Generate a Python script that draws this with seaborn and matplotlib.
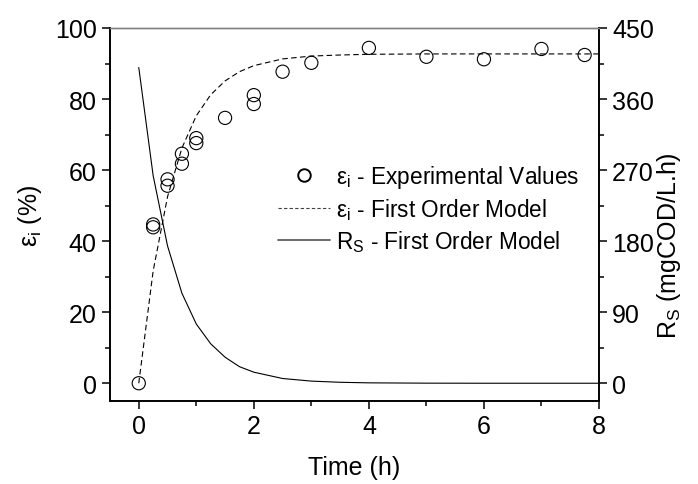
import matplotlib
matplotlib.use("Agg")
import matplotlib.pyplot as plt
from matplotlib.ticker import MultipleLocator
from matplotlib.lines import Line2D
import seaborn as sns
import pandas as pd

# Experimental values
t_exp = [0, 0.25, 0.25, 0.5, 0.5, 0.75, 0.75, 1.0, 1.0, 1.5, 2.0, 2.0, 2.5, 3.0, 4.0, 5.0, 6.0, 7.0, 7.75]
eps_exp = [0, 44.7, 43.9, 57.4, 55.6, 64.6, 61.8, 69.0, 67.6, 74.7, 81.1, 78.6, 87.7, 90.2, 94.4, 91.9, 91.2, 94.1, 92.4]

# Model curves
t_mod = [0, 0.25, 0.5, 0.75, 1.0, 1.25, 1.5, 1.75, 2.0, 2.5, 3.0, 3.5, 4.0, 5.0, 6.0, 7.0, 8.0]
eps_mod = [0, 31.6, 52.5, 66.2, 75.3, 81.2, 85.1, 87.7, 89.4, 91.3, 92.1, 92.4, 92.6, 92.7, 92.7, 92.7, 92.7]
rs_mod = [400, 263, 174, 114, 75, 50, 33, 21, 14, 6, 2.7, 1.2, 0.5, 0.1, 0, 0, 0]

x_ticks = [0, 2, 4, 6, 8]
left_ticks = [0, 20, 40, 60, 80, 100]
right_ticks = [0, 90, 180, 270, 360, 450]

sns.set_theme(style="ticks")
plt.rcParams['font.family'] = ['Liberation Sans', 'DejaVu Sans']
plt.rcParams['mathtext.fontset'] = 'custom'
plt.rcParams['mathtext.rm'] = 'Liberation Sans'
plt.rcParams['mathtext.it'] = 'Liberation Sans'
plt.rcParams['mathtext.bf'] = 'Liberation Sans:bold'
plt.rcParams['text.color'] = 'black'
plt.rcParams['axes.labelcolor'] = 'black'
plt.rcParams['xtick.color'] = 'black'
plt.rcParams['ytick.color'] = 'black'

df_exp = pd.DataFrame({"t": t_exp, "eps": eps_exp})
df_mod = pd.DataFrame({"t": t_mod, "eps": eps_mod, "rs": rs_mod})

fig = plt.figure(figsize=(6.98, 4.85), dpi=100)
ax = fig.add_axes([110/698, 1-402/485, (599-110)/698, (402-29)/485])
ax2 = ax.twinx()

lw = 0.8
sns.lineplot(data=df_mod, x="t", y="eps", ax=ax, color="black", lw=lw,
             linestyle=(0, (5, 3)), legend=False)
sns.scatterplot(data=df_exp, x="t", y="eps", ax=ax, s=90, facecolor="none",
                edgecolor="black", linewidth=0.8, legend=False, zorder=5)
sns.lineplot(data=df_mod, x="t", y="rs", ax=ax2, color="black", lw=lw, legend=False)

ax.set_xlim(-0.5, 8)
ax.set_ylim(-5, 100)
ax2.set_ylim(-22.5, 450)

ax.set_xticks(x_ticks)
ax.set_yticks(left_ticks)
ax2.set_yticks(right_ticks)
ax.xaxis.set_minor_locator(MultipleLocator(1))
ax.yaxis.set_minor_locator(MultipleLocator(10))
ax2.yaxis.set_minor_locator(MultipleLocator(45))

fs = 18
for a in (ax, ax2):
    a.tick_params(which="major", direction="out", length=6, width=1.1, labelsize=fs, pad=3.5, color="black")
    a.tick_params(which="minor", direction="out", length=3.5, width=1.1, color="black")
    for s in a.spines.values():
        s.set_linewidth(1.2)
        s.set_color("black")
    a.spines["top"].set_color("#808080")
    a.spines["top"].set_linewidth(1.0)

ax.set_xlabel("Time (h)", fontsize=fs, labelpad=12)
ax.set_ylabel("ε$_\\mathrm{i}$ (%)", fontsize=fs, labelpad=8)
ax2.set_ylabel("R$_\\mathrm{S}$ (mgCOD/L.h)", fontsize=fs, labelpad=6)
ax2.yaxis.set_label_coords(1.115, 0.42)

handles = [
    Line2D([], [], marker="o", linestyle="none", markerfacecolor="none",
           markeredgecolor="black", markersize=9, markeredgewidth=1.4),
    Line2D([], [], color="#404040", lw=lw, linestyle=(0, (3, 2))),
    Line2D([], [], color="#505050", lw=1.2),
]
labels = ["ε$_\\mathrm{i}$ - Experimental Values",
          "ε$_\\mathrm{i}$ - First Order Model",
          "R$_\\mathrm{S}$ - First Order Model"]
fig.legend(handles, labels, loc="upper left", bbox_to_anchor=(278/698, 1-164/485),
           frameon=False, fontsize=16.3, handlelength=2.3, handletextpad=0.25,
           labelspacing=0.26, borderpad=0, borderaxespad=0)

fig.savefig("out.png", dpi=100)
